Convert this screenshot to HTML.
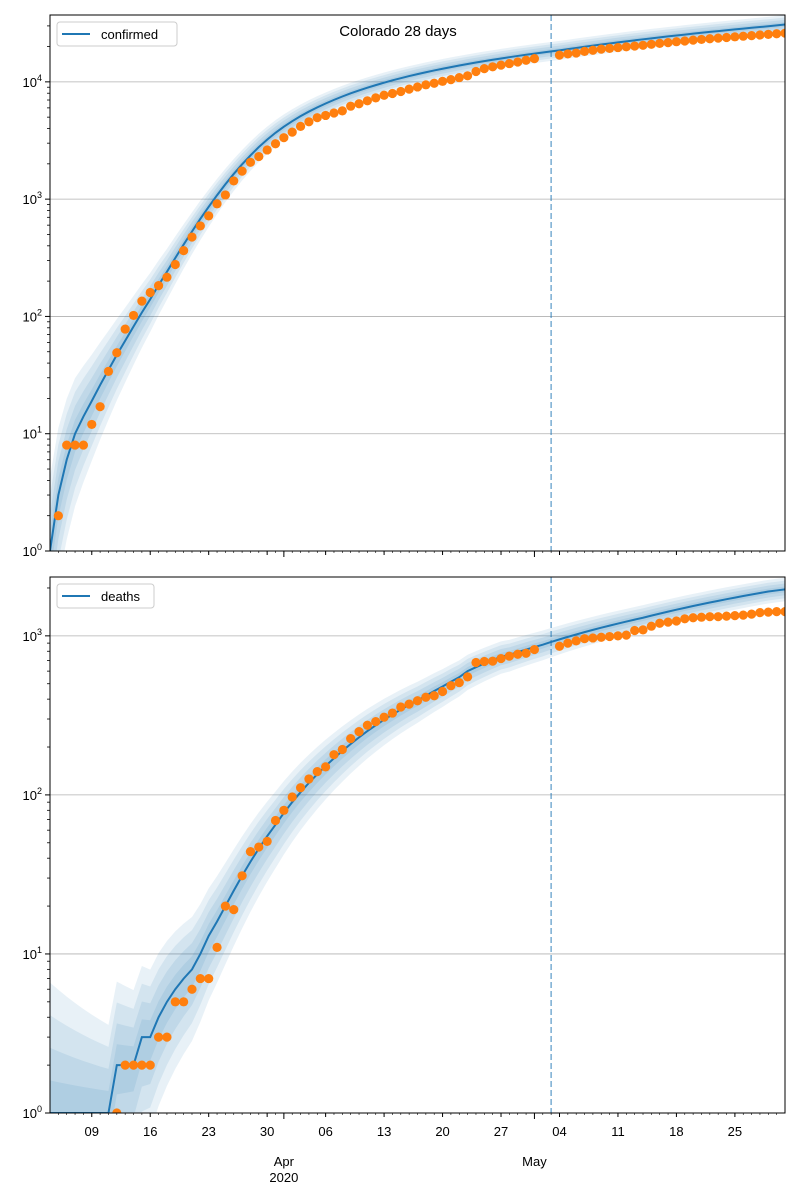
<!DOCTYPE html>
<html><head><meta charset="utf-8"><style>
html,body{margin:0;background:#fff;width:800px;height:1200px;overflow:hidden;}
svg{display:block;font-family:"Liberation Sans","DejaVu Sans",sans-serif;}
</style></head><body>
<svg id="chart" width="800" height="1200" viewBox="0 0 800 1200"></svg>
<script>
// ---- data (day index 0 = Mar 4 2020) ----
const confirmedDays = [1,2,3,4,5,6,7,8,9,10,11,12,13,14,15,16,17,18,19,20,21,22,23,24,25,26,27,28,29,30,31,32,33,34,35,36,37,38,39,40,41,42,43,44,45,46,47,48,49,50,51,52,53,54,55,56,57,58];
const confirmedObs = [2,8,8,8,12,17,34,49,78,102,135,160,183,216,277,364,475,591,720,912,1086,1430,1734,2061,2307,2627,2966,3342,3728,4173,4565,4950,5172,5429,5655,6202,6510,6893,7303,7691,7956,8280,8675,9047,9433,9730,10106,10447,10878,11262,12256,12968,13441,13879,14316,14758,15284,15768];
const confirmedDays2 = [61,62,63,64,65,66,67,68,69,70,71,72,73,74,75,76,77,78,79,80,81,82,83,84,85,86,87,88];
const confirmedObs2 = [16900,17300,17600,18200,18600,19000,19300,19600,19900,20200,20500,20900,21300,21600,22000,22300,22700,23000,23300,23600,23900,24200,24500,24800,25100,25400,25700,26000];
const confirmedModel = [1,3,6,10,14,19,26,35,47,62,82,108,140,185,240,315,410,530,680,860,1080,1340,1640,1980,2360,2780,3220,3680,4150,4620,5100,5580,6060,6540,7020,7500,7980,8450,8920,9380,9840,10300,10750,11200,11640,12080,12510,12940,13360,13780,14200,14610,15020,15430,15830,16230,16630,17020,17410,17800,18180,18560,19000,19450,19900,20350,20800,21250,21700,22150,22600,23050,23500,23950,24400,24850,25300,25750,26200,26650,27100,27550,28000,28450,28900,29350,29800,30300,30800];
const deathsDays = [8,9,10,11,12,13,14,15,16,17,18,19,20,21,22,23,24,25,26,27,28,29,30,31,32,33,34,35,36,37,38,39,40,41,42,43,44,45,46,47,48,49,50,51,52,53,54,55,56,57,58];
const deathsObs = [1,2,2,2,2,3,3,5,5,6,7,7,11,20,19,31,44,47,51,69,80,97,111,126,140,150,179,193,226,250,274,289,308,327,357,372,391,411,420,447,486,508,552,680,690,693,720,745,766,777,820];
const deathsDays2 = confirmedDays2;
const deathsObs2 = [860,900,930,960,970,980,990,1000,1010,1080,1090,1150,1200,1220,1240,1280,1300,1310,1320,1320,1330,1340,1350,1370,1400,1410,1420,1420];
const deathsModel = [1,1,1,1,1,1,1,1,2,2,2,3,3,4,5,6,7,8,10,13,16,20,25,31,38,46,55,65,77,90,104,119,135,152,170,189,209,230,252,274,297,320,344,368,392,420,450,480,515,550,600,635,670,705,740,760,790,820,850,880,915,950,985,1020,1055,1090,1125,1160,1195,1230,1265,1300,1340,1380,1420,1460,1500,1540,1580,1620,1660,1700,1740,1780,1820,1860,1900,1930,1960];
const xTickDays = [5,12,19,26,33,40,47,54,61,68,75,82];
const xTickLabels = ["09","16","23","30","06","13","20","27","04","11","18","25"];
const monthDays = [28,58];
const monthLabels = ["Apr\n2020","May"];
const forecastStartDay = 60;

// ---- layout ----
const NS="http://www.w3.org/2000/svg";
const svg=document.getElementById('chart');
const X0=50,X1=785,D0=0,D1=88;
function xs(d){return X0+(d-D0)*(X1-X0)/(D1-D0);}
function mk(tag,attrs,parent){const e=document.createElementNS(NS,tag);for(const k in attrs)e.setAttribute(k,attrs[k]);(parent||svg).appendChild(e);return e;}

function panel(cfg){
  const {top,bottom,lmin,lmax,name,model,obs,days,obs2,days2,legend,band}=cfg;
  const ys=v=>bottom-(Math.log10(Math.max(v,1e-3))-lmin)*(bottom-top)/(lmax-lmin);
  const g=mk('g',{});
  
  
  const cid='clip-'+name;
  const cp=mk('clipPath',{id:cid},g);mk('rect',{x:X0,y:top,width:X1-X0,height:bottom-top},cp);
  for(let p=Math.ceil(lmin);p<=Math.floor(lmax);p++){
    const gl=mk('line',{x1:X0,x2:X1,y1:ys(Math.pow(10,p)),y2:ys(Math.pow(10,p)),stroke:'#b0b0b0','stroke-width':0.8},g);
    
    
  }
  const plot=mk('g',{'clip-path':'url(#'+cid+')'},g);
  [1,0.75,0.5,0.25].forEach((s,i)=>{
    let up=[],lo=[];
    model.forEach((v,d)=>{
      const w=s*(band.w0*Math.exp(-d/band.decay)+band.wmin);
      const wl=s*(band.l0*Math.exp(-d/band.decay)+band.wmin);
      up.push(xs(d)+','+ys(v*Math.pow(10,w)));
      lo.push(xs(d)+','+ys(v/Math.pow(10,wl)));
    });
    const poly=mk('polygon',{points:up.concat(lo.reverse()).join(' '),fill:'#1f77b4','fill-opacity':0.1},plot);
    
    
  });
  const line=mk('polyline',{points:model.map((v,d)=>xs(d)+','+ys(v)).join(' '),fill:'none',stroke:'#1f77b4','stroke-width':2},plot);
  
  
  const vx=xs(forecastStartDay);
  const vl=mk('line',{x1:vx,x2:vx,y1:top,y2:bottom,stroke:'#1f77b4','stroke-opacity':0.6,'stroke-width':1.5,'stroke-dasharray':'6,3'},g);
  
  
  const pts=mk('g',{'clip-path':'url(#'+cid+')'},g);
  days.concat(days2).forEach((d,i)=>{
    const v=i<days.length?obs[i]:obs2[i-days.length];
    const c=mk('circle',{cx:xs(d),cy:ys(v),r:4.6,fill:'#ff7f0e'},pts);
    
    
  });
  mk('rect',{x:X0,y:top,width:X1-X0,height:bottom-top,fill:'none',stroke:'#000','stroke-width':1},g);
  for(let p=Math.ceil(lmin);p<=Math.floor(lmax);p++){
    const y=ys(Math.pow(10,p));
    mk('line',{x1:X0-5,x2:X0,y1:y,y2:y,stroke:'#000'},g);
    const t=mk('text',{x:X0-8,y:y+5,'text-anchor':'end','font-size':13},g);
    
    
    t.appendChild(document.createTextNode('10'));
    const s=mk('tspan',{dy:-6,'font-size':9},t);s.textContent=String(p);
  }
  for(let p=Math.floor(lmin);p<=Math.ceil(lmax);p++){
    for(let m=2;m<10;m++){const v=m*Math.pow(10,p);const l=Math.log10(v);if(l<lmin||l>lmax)continue;
      mk('line',{x1:X0-3,x2:X0,y1:ys(v),y2:ys(v),stroke:'#000','stroke-width':0.8},g);}
  }
  for(let d=D0+1;d<D1;d++) mk('line',{x1:xs(d),x2:xs(d),y1:bottom,y2:bottom+2,stroke:'#000','stroke-width':0.6},g);
  xTickDays.forEach(d=>mk('line',{x1:xs(d),x2:xs(d),y1:bottom,y2:bottom+4,stroke:'#000'},g));
  monthDays.forEach(d=>mk('line',{x1:xs(d),x2:xs(d),y1:bottom,y2:bottom+6,stroke:'#000'},g));
  const lg=mk('g',{},g);
  
  
  mk('rect',{x:57,y:top+7,width:legend.w,height:24,rx:3,fill:'#fff','fill-opacity':0.8,stroke:'#ccc'},lg);
  mk('line',{x1:62,x2:90,y1:top+19,y2:top+19,stroke:'#1f77b4','stroke-width':2},lg);
  const lt=mk('text',{x:101,y:top+24,'font-size':13},lg);lt.textContent=legend.text;
}

panel({top:15,bottom:551,lmin:0,lmax:4.57,name:'confirmed',model:confirmedModel,obs:confirmedObs,days:confirmedDays,obs2:confirmedObs2,days2:confirmedDays2,
  legend:{text:'confirmed',w:120},band:{w0:0.55,l0:0.75,decay:9,wmin:0.08}});
panel({top:577,bottom:1113,lmin:0,lmax:3.37,name:'deaths',model:deathsModel,obs:deathsObs,days:deathsDays,obs2:deathsObs2,days2:deathsDays2,
  legend:{text:'deaths',w:97},band:{w0:0.75,l0:1.1,decay:16,wmin:0.07}});

const title=mk('text',{x:398,y:36,'text-anchor':'middle','font-size':15});


title.textContent='Colorado 28 days';
xTickLabels.forEach((lab,i)=>{
  const t=mk('text',{x:xs(xTickDays[i]),y:1136,'text-anchor':'middle','font-size':13});
  
  
  t.textContent=lab;
});
monthLabels.forEach((lab,i)=>{
  lab.split('\n').forEach((ln,j)=>{
    const t=mk('text',{x:xs(monthDays[i]),y:1166+j*16,'text-anchor':'middle','font-size':13});
    
    
    t.textContent=ln;
  });
});
</script>
</body></html>
